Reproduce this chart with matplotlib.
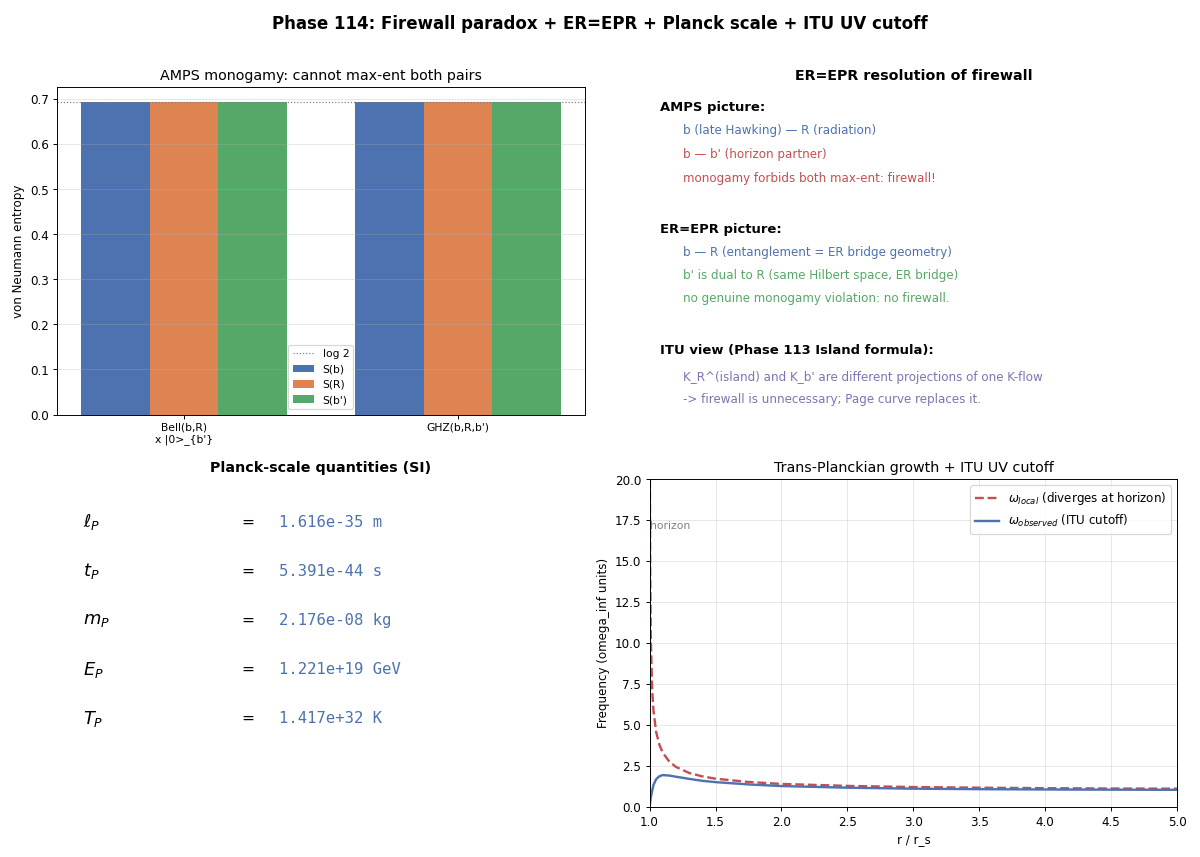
import numpy as np
import matplotlib
matplotlib.use("Agg")
import matplotlib.pyplot as plt

# colores (paleta deep)
C_BLUE = "#4C72B0"
C_ORANGE = "#DD8452"
C_GREEN = "#55A868"
C_RED = "#C44E52"
C_PURPLE = "#8172B3"

# datos panel 1: entropias
estados = ["Bell(b,R)\nx |0>_{b'}", "GHZ(b,R,b')"]
S_b = [0.693, 0.693]
S_R = [0.693, 0.693]
S_bp = [0.693, 0.693]
log2 = 0.693

# datos panel 3: cantidades de Planck
planck_sym = [r"$\ell_P$", r"$t_P$", r"$m_P$", r"$E_P$", r"$T_P$"]
planck_val = ["1.616e-35 m", "5.391e-44 s", "2.176e-08 kg", "1.221e+19 GeV", "1.417e+32 K"]

# datos panel 4: frecuencias
r_local = [1.001, 1.002, 1.003, 1.005, 1.01, 1.02, 1.03, 1.05, 1.075, 1.1, 1.15, 1.2, 1.3,
           1.4, 1.5, 1.75, 2.0, 2.5, 3.0, 3.5, 4.0, 4.5, 5.0]
w_local = [31.6, 22.4, 18.3, 14.2, 10.05, 7.14, 5.86, 4.58, 3.79, 3.32, 2.77, 2.45, 2.08,
           1.87, 1.73, 1.53, 1.41, 1.29, 1.22, 1.18, 1.15, 1.13, 1.12]
r_obs = [1.0, 1.01, 1.02, 1.03, 1.05, 1.075, 1.1, 1.15, 1.2, 1.3, 1.4, 1.5,
         1.75, 2.0, 2.5, 3.0, 3.5, 4.0, 4.5, 5.0]
w_obs = [0.0, 0.6, 1.0, 1.35, 1.7, 1.88, 1.95, 1.92, 1.85, 1.72, 1.6, 1.52,
         1.38, 1.28, 1.18, 1.12, 1.09, 1.07, 1.06, 1.05]

fig, axs = plt.subplots(2, 2, figsize=(14, 10))
plt.subplots_adjust(left=0.0475, right=0.981, top=0.8985, bottom=0.0583,
                    wspace=0.123, hspace=0.198)
fig.suptitle("Phase 114: Firewall paradox + ER=EPR + Planck scale + ITU UV cutoff",
             fontsize=14, fontweight="bold", y=0.982)

# panel 1
ax = axs[0, 0]
x = np.arange(len(estados))
w = 0.25
ax.bar(x - w, S_b, w, color=C_BLUE, label="S(b)")
ax.bar(x, S_R, w, color=C_ORANGE, label="S(R)")
ax.bar(x + w, S_bp, w, color=C_GREEN, label="S(b')")
ax.axhline(log2, color="gray", ls=":", lw=1, label="log 2")
ax.set_xticks(x)
ax.set_xticklabels(estados, fontsize=9)
ax.set_ylabel("von Neumann entropy")
ax.set_title("AMPS monogamy: cannot max-ent both pairs")
ax.grid(axis="y", alpha=0.3)
ax.legend(loc="lower center", fontsize=9)

# panel 2: texto
ax = axs[0, 1]
ax.axis("off")
ax.set_title("ER=EPR resolution of firewall", fontweight="bold")
lineas = [
    (0.936, 0.019, "AMPS picture:", "black", True),
    (0.866, 0.063, "b (late Hawking) \u2014 R (radiation)", C_BLUE, False),
    (0.793, 0.063, "b \u2014 b' (horizon partner)", C_RED, False),
    (0.722, 0.063, "monogamy forbids both max-ent: firewall!", C_RED, False),
    (0.564, 0.019, "ER=EPR picture:", "black", True),
    (0.494, 0.063, "b \u2014 R (entanglement = ER bridge geometry)", C_BLUE, False),
    (0.424, 0.063, "b' is dual to R (same Hilbert space, ER bridge)", C_GREEN, False),
    (0.354, 0.063, "no genuine monogamy violation: no firewall.", C_GREEN, False),
    (0.195, 0.019, "ITU view (Phase 113 Island formula):", "black", True),
    (0.113, 0.063, "K_R^(island) and K_b' are different projections of one K-flow", C_PURPLE, False),
    (0.046, 0.063, "-> firewall is unnecessary; Page curve replaces it.", C_PURPLE, False),
]
for yy, xx, txt, col, negrita in lineas:
    ax.text(xx, yy, txt, color=col, fontsize=11 if negrita else 10,
            fontweight="bold" if negrita else "normal",
            transform=ax.transAxes, va="center")

# panel 3: Planck
ax = axs[1, 0]
ax.axis("off")
ax.set_title("Planck-scale quantities (SI)", fontweight="bold")
for i, (s, v) in enumerate(zip(planck_sym, planck_val)):
    yy = 0.87 - 0.15 * i
    ax.text(0.05, yy, s, fontsize=15, transform=ax.transAxes, va="center")
    ax.text(0.35, yy, "=", fontsize=13, transform=ax.transAxes, va="center")
    ax.text(0.42, yy, v, fontsize=13, family="monospace", color=C_BLUE,
            transform=ax.transAxes, va="center")

# panel 4: frecuencias
ax = axs[1, 1]
ax.axvline(1.0, color="gray", ls=":", lw=1)
ax.plot(r_local, w_local, "--", color=C_RED, lw=2,
        label=r"$\omega_{local}$ (diverges at horizon)")
ax.plot(r_obs, w_obs, "-", color=C_BLUE, lw=2,
        label=r"$\omega_{observed}$ (ITU cutoff)")
ax.text(1.0, 17, "horizon", color="gray", fontsize=9)
ax.set_xlim(1.0, 5.0)
ax.set_ylim(0, 20)
ax.set_xlabel("r / r_s")
ax.set_ylabel("Frequency (omega_inf units)")
ax.set_title("Trans-Planckian growth + ITU UV cutoff")
ax.grid(alpha=0.3)
ax.legend(loc="upper right")

plt.savefig("out.png", dpi=1200 / 14)
